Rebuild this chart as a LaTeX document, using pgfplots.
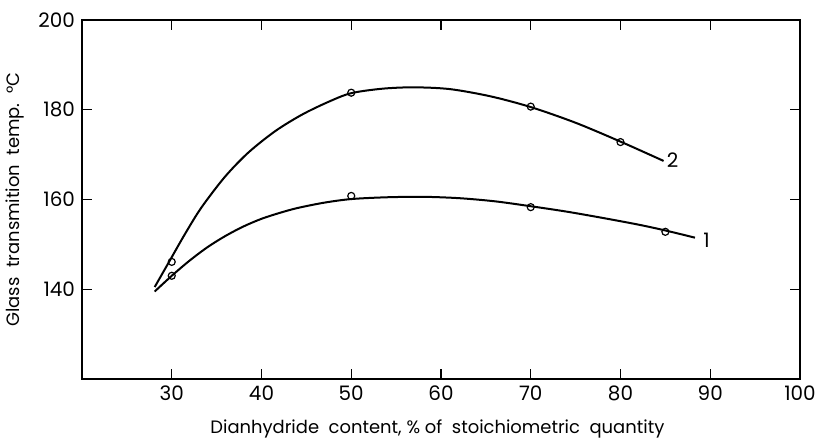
\documentclass[border=0pt]{standalone}
\usepackage{fontspec}
\setmainfont{Poppins}
\usepackage{pgfplots}
\pgfplotsset{compat=1.18}
\begin{document}
\begin{tikzpicture}
\useasboundingbox (-41bp,-29.5bp) rectangle (370bp,189.5bp);
\begin{axis}[
  scale only axis, width=359bp, height=179.5bp,
  at={(0,0)}, anchor=south west,
  xmin=20, xmax=100, ymin=120, ymax=200,
  xtick={30,40,...,100}, ytick={140,160,180,200},
  tick align=inside, major tick length=5bp,
  axis line style={line width=0.8bp},
  tick style={line width=0.7bp, black},
  ticklabel style={font=\fontsize{10}{11}\selectfont},
  /pgf/number format/assume math mode=true,
  xlabel={Dianhydride\ \ content, \% of\ \ stoichiometric\ \ quantity},
  ylabel={Glass\ \ transmition\ \ temp.\ \ °C},
  xlabel style={at={(axis description cs:0.495,-0.139)}, anchor=center, font=\fontsize{9}{10}\selectfont},
  ylabel style={at={(axis description cs:-0.094,0.5)}, anchor=center, font=\fontsize{9}{10}\selectfont},
  clip=false,
]
% curve 1 (lower)
\addplot[black, line width=1bp, smooth, no markers] coordinates {
 (28.1,139.5) (30,143.0) (32,146.4) (34,149.4) (36,151.9) (38,154.0) (40,155.7)
 (42,157.0) (44,158.1) (47,159.3) (50,160.1) (54,160.5) (58,160.6) (62,160.3)
 (66,159.6) (70,158.5) (74,157.3) (78,155.9) (82,154.4) (85,153.1) (88.3,151.5)
};
% curve 2 (upper)
\addplot[black, line width=1bp, smooth, no markers] coordinates {
 (28.1,140.5) (29.7,146.1) (31.5,152.4) (33.3,158.2) (35.9,165.0) (38.5,170.4)
 (41.5,175.2) (44.5,178.9) (47.5,181.8) (50,183.7) (53.5,184.7) (57,185.0)
 (61,184.6) (65.5,183.0) (70,180.6) (75,177.1) (80,172.9) (84.8,168.6)
};
% measured points
\addplot[only marks, mark=o, mark size=1.75bp, mark options={fill=white, line width=0.6bp, black}] coordinates {
 (30,143.0) (50,160.8) (70,158.3) (85,152.8)
};
\addplot[only marks, mark=o, mark size=1.75bp, mark options={fill=white, line width=0.6bp, black}] coordinates {
 (30,146.1) (50,183.8) (70,180.7) (80,172.8)
};
\node[font=\fontsize{10}{11}\selectfont] at (axis cs:85.8,168.8) {2};
\node[font=\fontsize{10}{11}\selectfont] at (axis cs:89.6,151.0) {1};
\end{axis}
\end{tikzpicture}
\end{document}
